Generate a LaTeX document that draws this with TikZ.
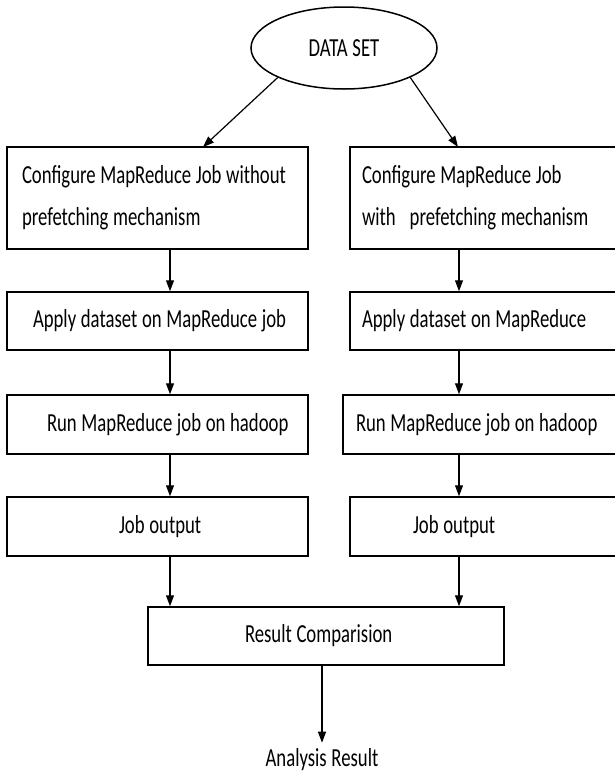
\documentclass[tikz,border=0pt]{standalone}
\usepackage{fontspec}
\setmainfont{Carlito}[FakeStretch=0.72, WordSpace=1.1]
\usetikzlibrary{shapes.geometric,arrows.meta}
\newcommand{\nsp}{\spaceskip=0pt\xspaceskip=0pt\relax}
\begin{document}
\begin{tikzpicture}[x=1pt,y=-1pt,
  every node/.style={font=\fontsize{26}{31}\selectfont},
  box/.style={draw, line width=1.5pt, inner xsep=0pt, inner ysep=0pt, align=left},
  arr/.style={line width=1.2pt, -{Triangle[length=11pt,width=8pt]}}]
\useasboundingbox (0,0) rectangle (614,774);
\fill[white] (0,0) rectangle (614,774);

\node[draw, ellipse, line width=1.5pt, minimum width=186pt, minimum height=82pt, inner sep=0pt] (ds) at (344,48) {DATA SET};

\node[box, text width=301pt, minimum height=102pt] (c1) at (157.5,198)
  {\nsp\hspace*{15pt}Configure MapReduce Job without\\[11pt]\hspace*{15pt}prefetching mechanism};
\node[box, text width=274pt, minimum height=102pt] (c2) at (487,198)
  {\nsp\hspace*{12pt}Configure MapReduce Job\\[11pt]\hspace*{12pt}with~~ prefetching mechanism};

\node[box, text width=301pt, minimum height=58pt] (a1) at (157.5,321) {\nsp\hspace*{26pt}Apply dataset on MapReduce job};
\node[box, text width=274pt, minimum height=58pt] (a2) at (487,321) {\nsp\hspace*{12pt}Apply dataset on MapReduce};

\node[box, text width=301pt, minimum height=59pt] (r1) at (157.5,424.5) {\nsp\hspace*{40pt}Run MapReduce job on hadoop};
\node[box, text width=281pt, minimum height=59pt] (r2) at (483.5,424.5) {\nsp\hspace*{13pt}Run MapReduce job on hadoop};

\node[box, text width=301pt, minimum height=59pt] (j1) at (157.5,526.5) {\nsp\hspace*{112pt}Job output};
\node[box, text width=274pt, minimum height=59pt] (j2) at (487,526.5) {\nsp\hspace*{63pt}Job output};

\node[box, text width=356pt, minimum height=58pt] (rc) at (326,636) {\nsp\hspace*{97pt}Result Comparision};

\node[inner xsep=0pt, inner ysep=6pt] (ar) at (322,760) {Analysis Result};

\coordinate (t1) at (203,147);
\coordinate (t2) at (458,147);
\coordinate (xl) at (170,0);
\coordinate (xr) at (459,0);

\draw[arr] (ds.south west) -- (t1);
\draw[arr] (ds.south east) -- (t2);

\draw[arr] (c1.south -| xl) -- (a1.north -| xl);
\draw[arr] (a1.south -| xl) -- (r1.north -| xl);
\draw[arr] (r1.south -| xl) -- (j1.north -| xl);
\draw[arr] (j1.south -| xl) -- (rc.north -| xl);

\draw[arr] (c2.south -| xr) -- (a2.north -| xr);
\draw[arr] (a2.south -| xr) -- (r2.north -| xr);
\draw[arr] (r2.south -| xr) -- (j2.north -| xr);
\draw[arr] (j2.south -| xr) -- (rc.north -| xr);

\draw[arr] (rc.south -| ar.north) -- (ar.north);
\end{tikzpicture}
\end{document}
